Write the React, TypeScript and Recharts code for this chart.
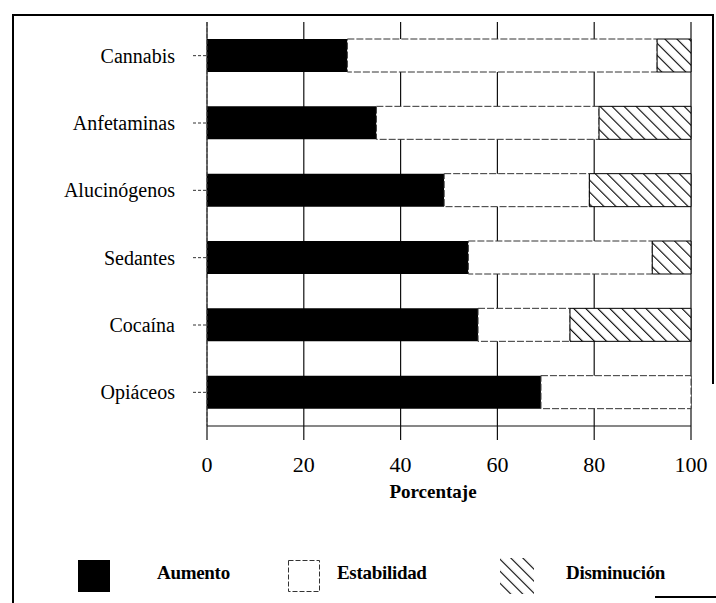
import { Bar, BarChart, CartesianGrid, XAxis, YAxis } from "recharts"

const categories = ["Cannabis", "Anfetaminas", "Alucinógenos", "Sedantes", "Cocaína", "Opiáceos"]
const aumento = [29, 35, 49, 54, 56, 69]
const estabilidad = [64, 46, 30, 38, 19, 31]
const disminucion = [7, 19, 21, 8, 25, 0]
const xTicks = [0, 20, 40, 60, 80, 100]

const series = [
  { key: "aumento", name: "Aumento" },
  { key: "estabilidad", name: "Estabilidad" },
  { key: "disminucion", name: "Disminución" },
]

const data = categories.map((name, i) => ({
  name,
  aumento: aumento[i],
  estabilidad: estabilidad[i],
  disminucion: disminucion[i],
}))

const serif = "'Liberation Serif', 'Times New Roman', serif"

// legend boxes / labels, page coords
const legendBoxX = [78, 288, 500]
const legendTextX = [157, 337, 566]

const LegendSwatch = ({ k }: { k: string }) => {
  if (k === "aumento") return <rect x={0} y={0} width={32} height={32} fill="#000" />
  if (k === "estabilidad")
    return (
      <rect x={0.5} y={0.5} width={31} height={31} fill="#fff" stroke="#333" strokeDasharray="5 2" />
    )
  return <rect x={0} y={-2} width={34} height={36} fill="url(#hatch)" />
}

export default function App() {
  return (
    <div style={{ position: "absolute", left: 0, top: 0, width: 716, height: 603, background: "#fff", fontFamily: serif }}>
      <svg width={0} height={0} style={{ position: "absolute" }}>
        <defs>
          <pattern id="hatch" patternUnits="userSpaceOnUse" width={8.5} height={8.5} patternTransform="rotate(-45)">
            <rect width={8.5} height={8.5} fill="#fff" />
            <line x1={0} y1={0} x2={0} y2={8.5} stroke="#000" strokeWidth={2.2} />
          </pattern>
        </defs>
      </svg>

      {/* outer frame */}
      <div style={{ position: "absolute", left: 12, top: 14, width: 2, height: 589, background: "#000" }} />
      <div style={{ position: "absolute", left: 12, top: 14, width: 702, height: 2, background: "#000" }} />
      <div style={{ position: "absolute", left: 712, top: 14, width: 2, height: 370, background: "#000" }} />
      <div style={{ position: "absolute", left: 655, top: 596, width: 61, height: 2, background: "#000" }} />

      <div style={{ position: "absolute", left: 0, top: 0 }}>
        <BarChart
          width={716}
          height={520}
          data={data}
          layout="vertical"
          margin={{ top: 22, right: 25, bottom: 24, left: 0 }}
          barSize={33}
        >
          <CartesianGrid vertical horizontal={false} stroke="#111" strokeWidth={1.2} />
          <XAxis
            xAxisId="top"
            orientation="top"
            type="number"
            domain={[0, 100]}
            height={0}
            tick={false}
            tickLine={false}
            axisLine={{ stroke: "#333", strokeDasharray: "8 3" }}
          />
          <XAxis
            type="number"
            domain={[0, 100]}
            ticks={xTicks}
            interval={0}
            height={70}
            tickSize={14}
            tickMargin={16}
            axisLine={{ stroke: "#111", strokeWidth: 1.2 }}
            tickLine={{ stroke: "#111", strokeWidth: 1.2 }}
            tick={{ fontSize: 22, fill: "#000", fontFamily: serif }}
            label={{
              value: "Porcentaje",
              position: "insideBottom",
              offset: -2,
              dx: -16,
              style: { fontSize: 19, fontWeight: "bold", fill: "#000", fontFamily: serif },
            }}
          />
          <YAxis
            type="category"
            dataKey="name"
            width={207}
            tickSize={14}
            tickMargin={18}
            axisLine={{ stroke: "#444", strokeDasharray: "4 2" }}
            tickLine={{ stroke: "#333", strokeDasharray: "3 2" }}
            tick={{ fontSize: 20, fill: "#000", fontFamily: serif }}
          />
          <Bar dataKey="aumento" name="Aumento" stackId="a" fill="#000" isAnimationActive={false} />
          <Bar
            dataKey="estabilidad"
            name="Estabilidad"
            stackId="a"
            fill="#fff"
            stroke="#333"
            strokeWidth={1}
            strokeDasharray="7 2"
            isAnimationActive={false}
          />
          <Bar
            dataKey="disminucion"
            name="Disminución"
            stackId="a"
            fill="url(#hatch)"
            stroke="#000"
            strokeWidth={1}
            isAnimationActive={false}
          />
        </BarChart>
      </div>

      {series.map((s, i) => (
        <div key={s.key}>
          <svg
            width={36}
            height={36}
            style={{ position: "absolute", left: legendBoxX[i], top: 560, overflow: "visible" }}
          >
            <LegendSwatch k={s.key} />
          </svg>
          <div
            style={{
              position: "absolute",
              left: legendTextX[i],
              top: 561,
              fontSize: 19,
              fontWeight: "bold",
              lineHeight: "24px",
              color: "#000",
              letterSpacing: -0.3,
            }}
          >
            {s.name}
          </div>
        </div>
      ))}
    </div>
  )
}
